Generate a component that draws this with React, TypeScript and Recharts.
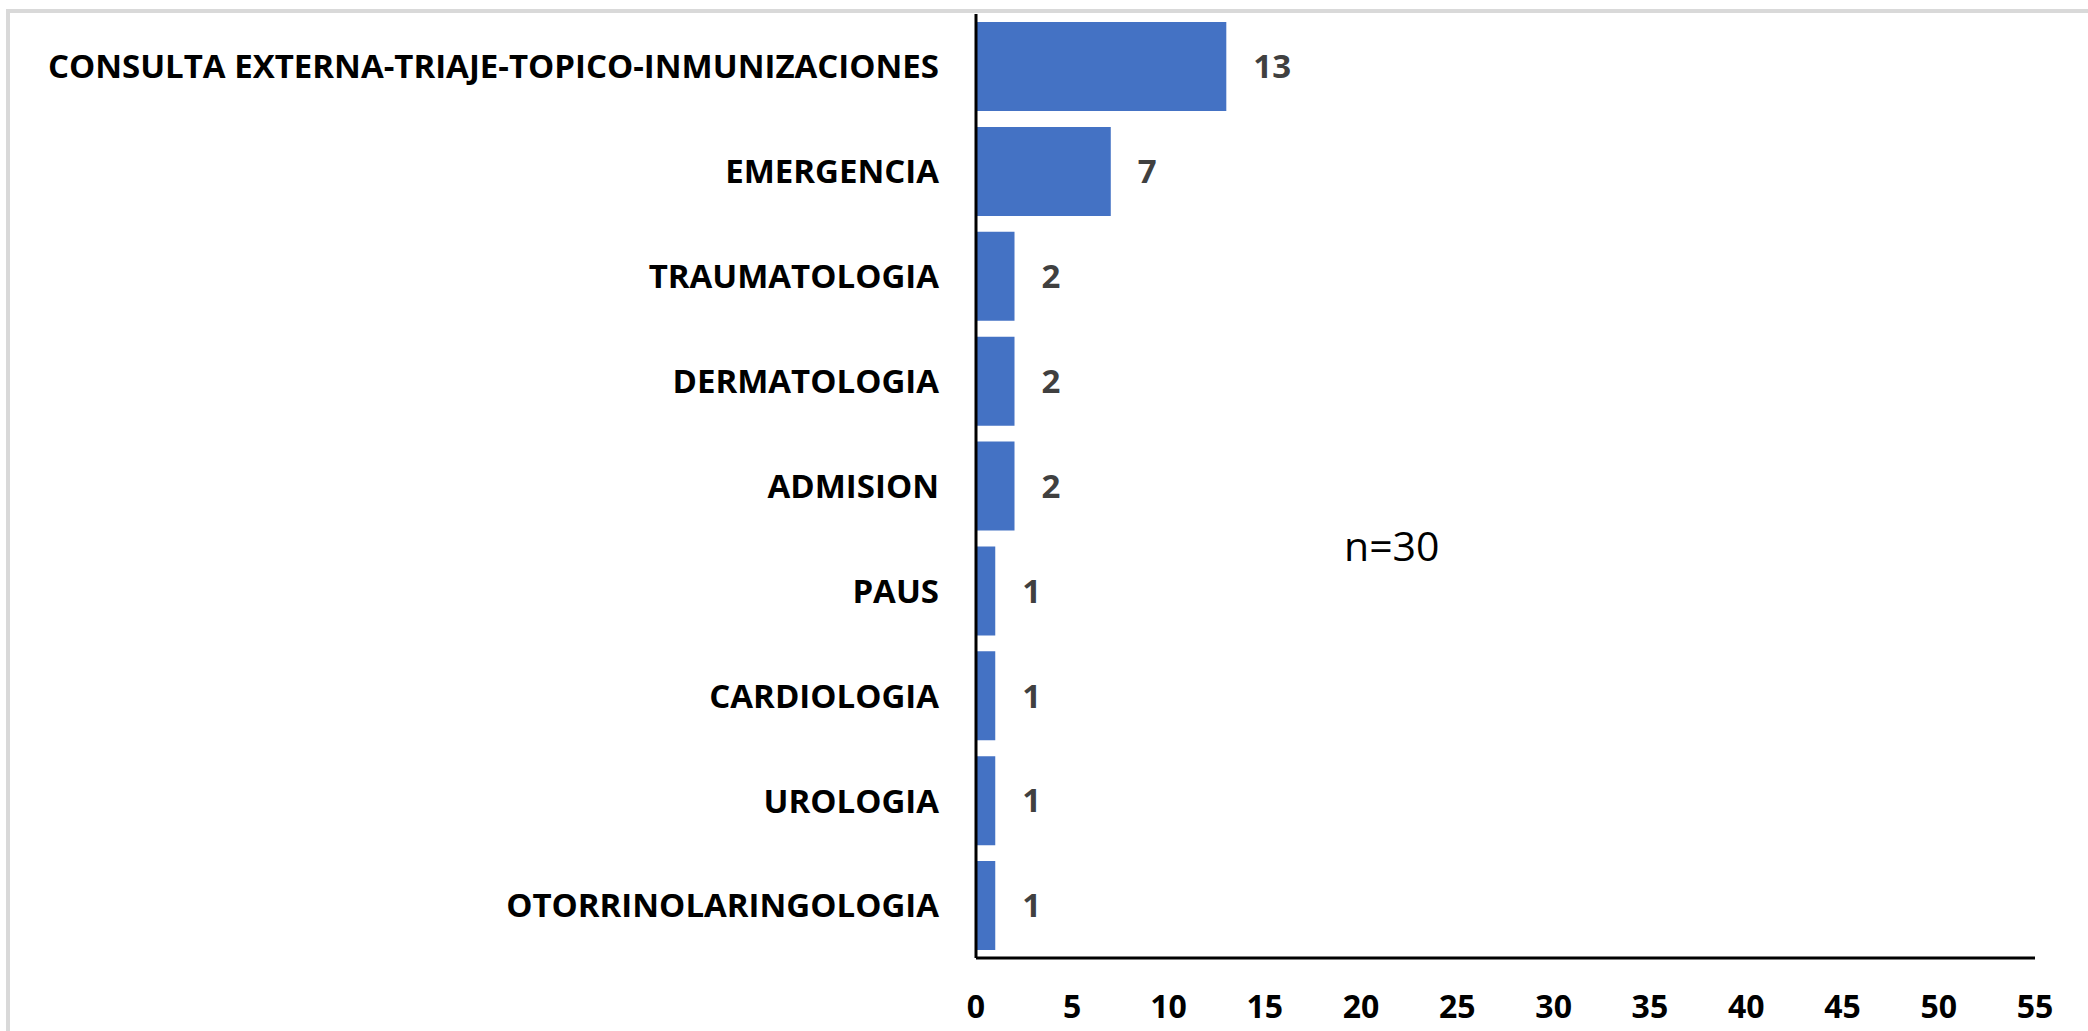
import { BarChart, Bar, XAxis, YAxis, LabelList } from 'recharts'

const areas = [
  'CONSULTA EXTERNA-TRIAJE-TOPICO-INMUNIZACIONES',
  'EMERGENCIA',
  'TRAUMATOLOGIA',
  'DERMATOLOGIA',
  'ADMISION',
  'PAUS',
  'CARDIOLOGIA',
  'UROLOGIA',
  'OTORRINOLARINGOLOGIA',
]
const counts = [13, 7, 2, 2, 2, 1, 1, 1, 1]
const xTicks = [0, 5, 10, 15, 20, 25, 30, 35, 40, 45, 50, 55]
const note = 'n=30'

const data = areas.map((area, i) => ({ area, count: counts[i] }))

const FONT = '"Open Sans", "Noto Sans", sans-serif'

function CategoryTick({ x, y, payload }: any) {
  return (
    <text x={x} y={y} dy="0.36em" textAnchor="end" fontFamily={FONT} fontWeight={700} fontSize={33} fill="#000">
      {payload.value}
    </text>
  )
}

function ValueTick({ x, y, payload }: any) {
  return (
    <text x={x} y={y} dy="0.71em" textAnchor="middle" fontFamily={FONT} fontWeight={700} fontSize={32} fill="#000">
      {payload.value}
    </text>
  )
}

export default function App() {
  return (
    <div style={{ position: 'absolute', left: 0, top: 0, width: 2088, height: 1031, background: '#fff' }}>
      <div style={{ position: 'absolute', left: 6, top: 9, right: 0, bottom: 0, borderLeft: '4px solid #d9d9d9', borderTop: '4px solid #d9d9d9' }} />
      <div style={{ position: 'absolute', left: 0, top: 0 }}>
        <BarChart
          width={2088}
          height={1031}
          data={data}
          layout="vertical"
          margin={{ top: 14, right: 53, left: 0, bottom: 0 }}
        >
          <XAxis
            type="number"
            domain={[0, 55]}
            ticks={xTicks}
            interval={0}
            height={73}
            axisLine={{ stroke: '#000', strokeWidth: 3 }}
            tickLine={false}
            tickMargin={31}
            tick={<ValueTick />}
          />
          <YAxis
            type="category"
            dataKey="area"
            width={976}
            interval={0}
            axisLine={{ stroke: '#000', strokeWidth: 3 }}
            tickLine={false}
            tickMargin={31}
            tick={<CategoryTick />}
          />
          <Bar dataKey="count" fill="#4472C4" barSize={89} isAnimationActive={false}>
            <LabelList
              dataKey="count"
              position="right"
              offset={27}
              fill="#404040"
              fontFamily={FONT}
              fontWeight={700}
              fontSize={33}
            />
          </Bar>
          <text x={1344} y={561} fontFamily={FONT} fontSize={41} fill="#000">
            {note}
          </text>
        </BarChart>
      </div>
    </div>
  )
}
